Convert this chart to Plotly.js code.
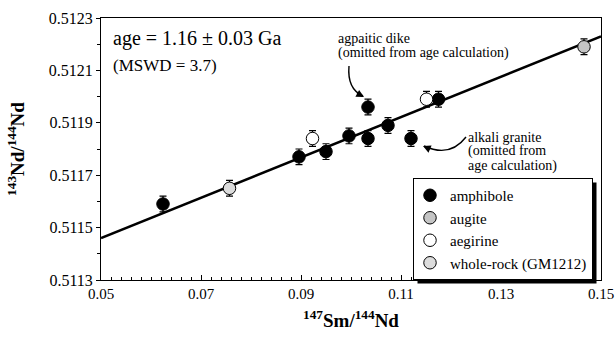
<!DOCTYPE html>
<html>
<head>
<meta charset="utf-8">
<script src="https://cdn.plot.ly/plotly-3.0.1.min.js"></script>
<style>html,body{margin:0;padding:0;background:#fff;}#chart{width:615px;height:339px;}</style>
</head>
<body>
<div id="chart"></div>
<script>
// ---- data ----
const amphiboleX = [0.0624, 0.0896, 0.0950, 0.0996, 0.1034, 0.1034, 0.1074, 0.1120, 0.1175];
const amphiboleY = [0.51159, 0.51177, 0.51179, 0.51185, 0.51184, 0.51196, 0.51189, 0.51184, 0.51199];
const augiteX = [0.1466];
const augiteY = [0.51219];
const aegirineX = [0.0923, 0.1151];
const aegirineY = [0.51184, 0.51199];
const wholeRockX = [0.0757];
const wholeRockY = [0.51165];
const isochronX = [0.05, 0.15];
const isochronY = [0.51146, 0.51223];
const errNd = 0.00003;
const seriesNames = ["amphibole", "augite", "aegirine", "whole-rock (GM1212)"];
const xTickVals = [0.05, 0.07, 0.09, 0.11, 0.13, 0.15];
const xTickText = ["0.05", "0.07", "0.09", "0.11", "0.13", "0.15"];
const yTickVals = [0.5113, 0.5115, 0.5117, 0.5119, 0.5121, 0.5123];
const yTickText = ["0.5113", "0.5115", "0.5117", "0.5119", "0.5121", "0.5123"];

const FONT = '"Liberation Serif", serif';
const W = 615, H = 339;
const M = {l: 101, r: 14, t: 18, b: 59};
const pw = W - M.l - M.r, ph = H - M.t - M.b;
const px = x => (x - M.l) / pw;      // pixel -> paper x
const py = y => (H - M.b - y) / ph;  // pixel -> paper y
const X0 = 0.05, X1 = 0.15, Y0 = 0.5113, Y1 = 0.5123;
const dx = x => X0 + (x - M.l) / pw * (X1 - X0); // pixel -> data x (for arrow paths)
const dy = y => Y0 + (H - M.b - y) / ph * (Y1 - Y0);

const eb = {type: 'constant', value: errNd, color: '#000', thickness: 1.2, width: 3.5};

const traces = [
  {x: isochronX, y: isochronY, mode: 'lines', line: {color: '#000', width: 2.6}, showlegend: false, hoverinfo: 'skip'},
  {x: amphiboleX, y: amphiboleY, name: seriesNames[0], mode: 'markers', error_y: eb,
   marker: {size: 12.5, color: '#000', line: {color: '#000', width: 1}}},
  {x: augiteX, y: augiteY, name: seriesNames[1], mode: 'markers', error_y: eb,
   marker: {size: 12.5, color: '#c4c4c4', line: {color: '#000', width: 1}}},
  {x: aegirineX, y: aegirineY, name: seriesNames[2], mode: 'markers', error_y: eb,
   marker: {size: 12.5, color: '#fff', line: {color: '#000', width: 1}}},
  {x: wholeRockX, y: wholeRockY, name: seriesNames[3], mode: 'markers', error_y: eb,
   marker: {size: 12.5, color: '#dcdcdc', line: {color: '#000', width: 1}}}
];

function txt(text, x, y, size, anchor) {
  return {text: text, xref: 'paper', yref: 'paper', x: px(x), y: py(y), xanchor: anchor || 'left', yanchor: 'middle',
          showarrow: false, font: {family: FONT, size: size, color: '#000'}};
}
function head(x, y, ax, ay) {
  return {text: ' ', xref: 'x', yref: 'y', x: dx(x), y: dy(y), ax: ax, ay: ay, showarrow: true,
          arrowhead: 2, arrowsize: 1.1, arrowwidth: 1.4, arrowcolor: '#000', standoff: 0, font: {size: 2}};
}

const annotations = [
  txt('age = 1.16 ± 0.03 Ga', 111, 38, 20),
  txt('(MSWD = 3.7)', 111, 65, 17),
  txt('agpaitic dike', 336, 38, 14),
  txt('(omitted from age calculation)', 336, 53, 14),
  txt('alkali granite', 466, 137, 14),
  txt('(omitted from', 466, 151, 14),
  txt('age calculation)', 466, 166, 14),
  head(364, 97, -9, -5),
  head(423, 146, 9, 4)
];

const shapes = [
  {type: 'path', xref: 'x', yref: 'y', line: {color: '#000', width: 1.4},
   path: `M ${dx(349)},${dy(66)} Q ${dx(347)},${dy(89)} ${dx(363)},${dy(96)}`},
  {type: 'path', xref: 'x', yref: 'y', line: {color: '#000', width: 1.4},
   path: `M ${dx(466)},${dy(137)} Q ${dx(450)},${dy(158)} ${dx(424)},${dy(146)}`},
  {type: 'rect', xref: 'paper', yref: 'paper', layer: 'below', x0: px(417), x1: px(597), y0: py(268), y1: py(182),
   fillcolor: '#000', line: {width: 0}}
];

const axisCommon = {showline: true, mirror: true, linecolor: '#000', linewidth: 1, showgrid: false, zeroline: false,
  tickcolor: '#000', ticklabeloverflow: 'allow', automargin: false};

const layout = {
  width: W, height: H, margin: M, paper_bgcolor: '#fff', plot_bgcolor: '#fff',
  font: {family: FONT, color: '#000'},
  xaxis: Object.assign({}, axisCommon, {range: [X0, X1 + 1e-9], tickmode: 'array', tickvals: xTickVals, ticktext: xTickText,
    tickfont: {family: FONT, size: 15, color: '#000'},
    ticks: 'inside', ticklen: 5, minor: {tick0: 0.05, dtick: 0.002, ticks: 'inside', ticklen: 3, tickcolor: '#000', showgrid: false},
    title: {text: '<b><sup>147</sup>Sm/<sup>144</sup>Nd</b>', font: {family: FONT, size: 19, color: '#000'}, standoff: 12}}),
  yaxis: Object.assign({}, axisCommon, {range: [Y0, Y1], tickmode: 'array', tickvals: yTickVals, ticktext: yTickText,
    tickfont: {family: FONT, size: 16, color: '#000'},
    ticks: 'outside', ticklen: 4, minor: {tick0: 0.5113, dtick: 0.0001, ticks: 'outside', ticklen: 3, tickcolor: '#000', showgrid: false},
    title: {text: '<b><sup>143</sup>Nd/<sup>144</sup>Nd</b>', font: {family: FONT, size: 19, color: '#000'}, standoff: 19}}),
  legend: {x: px(413), y: py(178), xanchor: 'left', yanchor: 'top', bgcolor: '#fff', bordercolor: '#000', borderwidth: 1,
    font: {family: FONT, size: 15, color: '#000'}, itemwidth: 30, indentation: -4, tracegroupgap: 0},
  showlegend: true,
  annotations: annotations,
  shapes: shapes
};

Plotly.newPlot('chart', traces, layout, {staticPlot: true, displayModeBar: false}).then(gd => {
  // put the drop shadow exactly behind the drawn legend box
  const bg = gd.querySelector('.legend .bg');
  if (!bg) return;
  const r = bg.getBoundingClientRect();
  const c = gd.getBoundingClientRect();
  const L = r.left - c.left, T = r.top - c.top;
  const newShapes = shapes.slice();
  newShapes[2] = Object.assign({}, shapes[2], {x0: px(L + 4), x1: px(L + r.width + 4), y0: py(T + r.height + 4), y1: py(T + 4)});
  return Plotly.relayout(gd, {shapes: newShapes});
});
</script>
</body>
</html>
